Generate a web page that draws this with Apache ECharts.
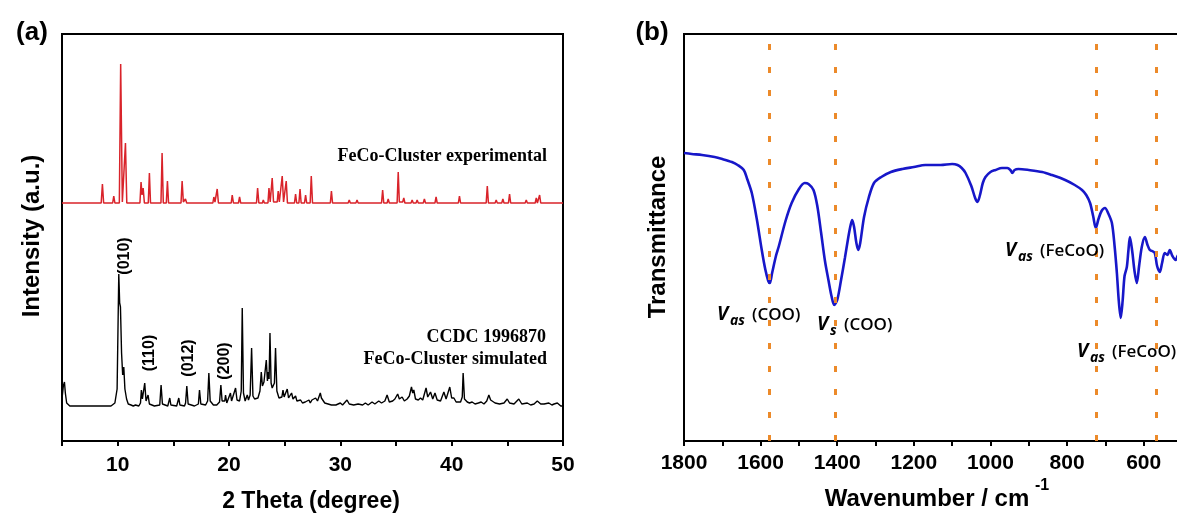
<!DOCTYPE html>
<html>
<head>
<meta charset="utf-8">
<script src="https://cdn.jsdelivr.net/npm/echarts@6/dist/echarts.min.js"></script>
<style>
html,body{margin:0;padding:0;background:#fff;overflow:hidden;}
#chart{width:1200px;height:518px;}
</style>
</head>
<body>
<div id="chart"></div>
<script>
// ---------- (a) XRD data: [2theta, intensity (a.u., stacked)] ----------
const xrdExperimental = [
[5,238],[7.38,238],[7.49,239],[7.6,238],
[8.52,238],[8.63,257],[8.74,238],
[9.55,238],[9.65,245],[9.75,238],
[10.15,238],[10.27,377],[10.42,239],[10.58,238],[10.7,298],[10.82,238],
[12.0,238],[12.1,259],[12.19,246],[12.29,253],[12.4,238],
[12.75,238],[12.85,268],[12.95,238],
[13.89,238],[13.99,288],[14.1,238],
[14.37,238],[14.47,260],[14.57,238],
[15.69,238],[15.79,260],[15.9,239],[16.0,238],[16.09,242],[16.2,238],
[17.65,238],[17.74,240],[17.85,238],
[18.55,238],[18.64,244],[18.74,239],[18.84,238],[18.94,252],[19.05,238],
[20.2,238],[20.29,246],[20.4,238],
[20.85,238],[20.95,244],[21.05,238],
[22.47,238],[22.57,253],[22.68,238],
[23.0,238],[23.08,241],[23.18,238],
[23.5,238],[23.59,253],[23.7,239],[23.78,239],[23.88,263],[24.0,239],
[24.33,239],[24.42,250],[24.52,239],[24.68,239],[24.78,265],[24.9,239],[25.0,239],[25.14,260],[25.25,238],
[25.88,238],[25.98,247],[26.08,238],
[26.28,238],[26.38,252],[26.48,238],
[26.78,238],[26.88,246],[26.98,238],
[27.29,238],[27.39,265],[27.5,238],
[29.1,238],[29.2,250],[29.3,238],
[30.7,238],[30.8,241],[30.9,238],
[31.4,238],[31.5,241],[31.6,238],
[32.9,238],[33.0,240],[33.1,238],
[33.7,238],[33.8,251],[33.9,238],
[34.2,238],[34.3,242],[34.4,238],
[35.1,238],[35.2,269],[35.3,239],[35.6,239],[35.7,243],[35.8,238],
[36.35,238],[36.45,241],[36.55,238],[36.8,238],[36.9,241],[37.0,238],
[37.45,238],[37.55,242],[37.65,238],
[38.5,238],[38.6,244],[38.7,238],
[40.6,238],[40.7,245],[40.8,238],
[43.1,238],[43.2,255],[43.3,238],
[43.9,238],[44.0,241],[44.1,238],
[44.5,238],[44.6,242],[44.7,238],
[45.1,238],[45.2,247],[45.3,238],
[46.6,238],[46.7,241],[46.8,238],
[47.5,238],[47.6,243],[47.7,238],[47.8,238],[47.9,246],[48.0,238],
[50,238]
];
const xrdSimulated = [
[5.0,42],[5.12,55],[5.22,59],[5.3,48],[5.42,38],[5.7,35],[9.4,35],[9.75,38],[9.95,52],[10.1,167],[10.18,138],[10.25,134],[10.35,88],[10.45,66],[10.55,74],[10.65,52],[10.8,42],[10.85,44],[10.95,37],[11.2,36],[11.4,35],[11.6,36],[11.9,35],
[12.05,38],[12.13,51],[12.22,42],[12.3,44],[12.43,58],[12.55,40],[12.66,40],[12.73,46],[12.85,37],[13.3,35],[13.78,36],[13.9,56],[14.02,37],[14.5,35],[14.6,37],[14.68,43],[14.78,36],[15.3,35],[15.41,37],[15.49,43],[15.59,36],
[16.0,35],[16.1,38],[16.21,55],[16.33,37],[16.9,35],[17.25,37],[17.35,51],[17.47,37],[17.9,36],[18.08,40],[18.19,68],[18.31,40],[18.6,36],[18.9,36],[19.15,39],[19.27,56],[19.38,40],[19.5,38],[19.62,40],[19.69,46],[19.8,38],[19.95,39],
[20.13,48],[20.23,40],[20.4,40],[20.59,53],[20.72,41],[20.95,40],[21.1,50],[21.19,133],[21.3,48],[21.45,40],[21.64,46],[21.75,41],[21.9,46],[22.03,93],[22.15,45],[22.3,42],[22.45,44],[22.6,43],[22.78,50],[22.9,69],[23.0,55],
[23.14,59],[23.25,58],[23.35,81],[23.45,60],[23.53,69],[23.6,62],[23.68,108],[23.78,58],[23.88,53],[23.98,52],[24.08,58],[24.18,93],[24.3,50],[24.49,43],[24.6,45],[24.75,44],[24.85,51],[24.95,44],[25.1,45],[25.23,52],[25.35,43],
[25.5,42],[25.62,48],[25.75,42],[25.85,41],[25.98,45],[26.1,40],[26.25,39],[26.43,41],[26.6,38],[26.85,39],[27.0,38],[27.18,41],[27.3,38],[27.45,41],[27.6,39],[27.78,43],[27.95,40],[28.1,42],[28.2,48],[28.3,43],[28.44,44],
[28.6,38],[28.9,37],[29.2,36],[29.6,36],[30.0,38],[30.2,36],[30.6,41],[30.8,37],[31.2,36],[31.6,37],[32.0,36],[32.25,38],[32.5,36],[32.85,39],[33.1,37],[33.45,40],[33.7,38],[34.0,40],[34.2,46],[34.4,39],[34.7,40],[34.9,42],
[35.15,47],[35.3,42],[35.55,44],[35.75,40],[36.0,42],[36.2,45],[36.39,54],[36.5,48],[36.6,51],[36.75,42],[37.0,41],[37.2,43],[37.4,41],[37.7,53],[37.85,44],[38.1,49],[38.3,42],[38.5,48],[38.7,41],[39.0,40],[39.3,49],[39.5,42],
[39.83,54],[40.0,43],[40.2,43],[40.4,39],[40.8,39],[40.95,44],[41.03,68],[41.15,42],[41.4,39],[41.6,38],[41.84,39],[42.1,37],[42.4,38],[42.65,39],[42.9,37],[43.15,40],[43.34,46],[43.5,41],[43.64,43],[43.9,38],[44.3,37],
[44.7,38],[44.99,42],[45.2,38],[45.6,37],[46.03,42],[46.3,37],[46.79,38],[47.1,36],[47.4,37],[47.69,40],[48.0,37],[48.3,37],[48.73,38],[49.0,36],[49.2,37],[49.49,38],[49.8,35],[50,35]
];
const xrdTicks = [10, 20, 30, 40, 50];
const millerLabels = ['(010)', '(110)', '(012)', '(200)'];

// ---------- (b) FTIR data: [wavenumber cm-1, transmittance (a.u.)] ----------
const ftir = [
[1800,288],[1780,287],[1753,286],[1720,284],[1700,282],[1675,279],[1660,276],[1644,271],[1635,262],[1623,248],[1610,222],[1597,191],[1588,172],[1580,160],[1576,158],[1570,168],[1560,185],[1553,194],[1535,220],[1519,238],
[1500,252],[1485,258],[1475,257],[1462,251],[1452,235],[1442,208],[1432,180],[1423,161],[1415,145],[1408,136],[1400,141],[1390,161],[1380,183],[1371,204],[1365,216],[1361,221],[1356,214],[1350,198],[1345,191],[1340,198],
[1330,224],[1318,243],[1304,258],[1285,264],[1260,269],[1230,272],[1200,274],[1170,276],[1130,276],[1100,277],[1086,276],[1075,273],[1065,268],[1050,255],[1040,243],[1034,239],[1028,245],[1020,258],[1013,264],[1000,269],
[987,271],[970,273],[956,273],[948,271],[943,268],[937,271],[927,272],[900,271],[865,269],[840,266],[805,261],[780,256],[761,251],[750,246],[740,238],[732,225],[725,213],[718,222],[710,230],[701,233],[693,228],[683,218],
[676,195],[670,168],[665,140],[660,123],[655,140],[650,165],[644,174],[640,190],[636,204],[630,190],[624,170],[618,158],[612,175],[605,194],[597,204],[590,196],[584,191],[578,190],[571,188],[565,175],[558,169],[552,178],
[545,188],[538,186],[532,191],[525,185],[517,181],[510,186],[500,188]
];
const ftirMarks = [1577, 1406, 725, 566];
const ftirTicks = [1800, 1600, 1400, 1200, 1000, 800, 600];

const SANS = '"Liberation Sans", Arial, sans-serif';
const OPEN = '"Open Sans", "Noto Sans", sans-serif';
const SERIF = '"Liberation Serif", "Times New Roman", serif';

const chart = echarts.init(document.getElementById('chart'), null, {renderer: 'canvas'});

function txt(x, y, text, font, opts) {
  opts = opts || {};
  return {
    type: 'text', x: x, y: y, rotation: opts.rotation || 0, z: 100,
    style: {
      text: text, font: font, fill: opts.fill || '#000',
      textAlign: opts.align || 'center', textVerticalAlign: opts.valign || 'middle'
    }
  };
}
function nuLabel(x, y, sub, rest) {
  const els = [];
  els.push(txt(x, y, 'V', 'italic bold 19px ' + OPEN, {align: 'left'}));
  els.push(txt(x + 13, y + 6, sub, 'italic bold 14px ' + OPEN, {align: 'left'}));
  const subW = sub.length === 2 ? 17 : 9;
  els.push(txt(x + 13 + subW + 5, y, rest, '600 17px ' + OPEN, {align: 'left'}));
  return els;
}

const graphics = [
  txt(32, 33, '(a)', 'bold 26px ' + SANS),
  txt(652, 33, '(b)', 'bold 26px ' + SANS),
  txt(32, 236, 'Intensity (a.u.)', 'bold 24px ' + SANS, {rotation: Math.PI / 2}),
  txt(311, 502, '2 Theta (degree)', 'bold 23px ' + SANS),
  txt(658, 237, 'Transmittance', 'bold 24px ' + SANS, {rotation: Math.PI / 2}),
  txt(927, 499, 'Wavenumber / cm', 'bold 24px ' + SANS),
  txt(1035, 486, '-1', 'bold 16px ' + SANS, {align: 'left'}),
  txt(547, 156, 'FeCo-Cluster experimental', 'bold 18px ' + SERIF, {align: 'right'}),
  txt(546, 337, 'CCDC 1996870', 'bold 18px ' + SERIF, {align: 'right'}),
  txt(547, 359, 'FeCo-Cluster simulated', 'bold 18px ' + SERIF, {align: 'right'}),
  txt(125, 256, millerLabels[0], 'bold 16px ' + SANS, {rotation: Math.PI / 2}),
  txt(150, 353, millerLabels[1], 'bold 16px ' + SANS, {rotation: Math.PI / 2}),
  txt(189, 358, millerLabels[2], 'bold 16px ' + SANS, {rotation: Math.PI / 2}),
  txt(225, 361, millerLabels[3], 'bold 16px ' + SANS, {rotation: Math.PI / 2})
].concat(
  nuLabel(717, 315, 'as', '(COO)'),
  nuLabel(817, 325, 's', '(COO)'),
  nuLabel(1005, 251, 'as', '(FeCoO)'),
  nuLabel(1077, 352, 'as', '(FeCoO)')
);

const axisTextStyle = {color: '#000', fontFamily: SANS, fontWeight: 'bold', fontSize: 21};

const option = {
  animation: false,
  backgroundColor: '#fff',
  grid: [
    {left: 62, top: 34, width: 501, height: 407, show: true, borderColor: '#000', borderWidth: 2, containLabel: false},
    {left: 684, top: 34, width: 498, height: 407, show: true, borderColor: '#000', borderWidth: 2, containLabel: false}
  ],
  xAxis: [
    {
      type: 'value', gridIndex: 0, min: 5, max: 50, interval: 5,
      axisLine: {show: true, onZero: false, lineStyle: {color: '#000', width: 2}},
      axisTick: {show: true, inside: false, length: 5, lineStyle: {color: '#000', width: 2}},
      axisLabel: Object.assign({margin: 14, formatter: function (v) { return xrdTicks.indexOf(v) >= 0 ? String(v) : ''; }}, axisTextStyle),
      splitLine: {show: false}
    },
    {
      type: 'value', gridIndex: 1, min: 500, max: 1800, interval: 100, inverse: true,
      axisLine: {show: true, onZero: false, lineStyle: {color: '#000', width: 2}},
      axisTick: {show: true, inside: false, length: 5, lineStyle: {color: '#000', width: 2}},
      axisLabel: Object.assign({margin: 12, formatter: function (v) { return ftirTicks.indexOf(v) >= 0 ? String(v) : ''; }}, axisTextStyle),
      splitLine: {show: false}
    }
  ],
  yAxis: [
    {
      type: 'value', gridIndex: 0, min: 0, max: 407,
      axisLine: {show: true, lineStyle: {color: '#000', width: 2}},
      axisTick: {show: false}, axisLabel: {show: false}, splitLine: {show: false}
    },
    {
      type: 'value', gridIndex: 1, min: 0, max: 407,
      axisLine: {show: true, lineStyle: {color: '#000', width: 2}},
      axisTick: {show: false}, axisLabel: {show: false}, splitLine: {show: false}
    }
  ],
  series: [
    {
      name: 'FeCo-Cluster experimental', type: 'line', xAxisIndex: 0, yAxisIndex: 0,
      data: xrdExperimental, showSymbol: false, symbol: 'none',
      lineStyle: {color: '#d9232a', width: 1.5}
    },
    {
      name: 'FeCo-Cluster simulated', type: 'line', xAxisIndex: 0, yAxisIndex: 0,
      data: xrdSimulated, showSymbol: false, symbol: 'none',
      lineStyle: {color: '#000', width: 1.4}
    },
    {
      name: 'FTIR', type: 'line', xAxisIndex: 1, yAxisIndex: 1,
      data: ftir, showSymbol: false, symbol: 'none', smooth: 0.3,
      lineStyle: {color: '#1717c9', width: 2.6},
      markLine: {
        silent: true, symbol: ['none', 'none'], animation: false,
        label: {show: false},
        lineStyle: {color: '#ec8a2a', width: 3, type: [6, 17]},
        data: ftirMarks.map(function (v) { return {xAxis: v}; })
      }
    }
  ],
  graphic: graphics
};
chart.setOption(option);
</script>
</body>
</html>
